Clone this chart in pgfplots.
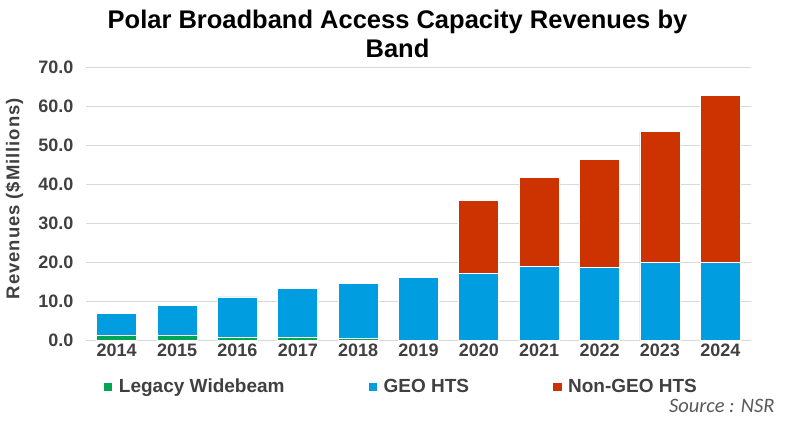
\documentclass[border=0pt]{standalone}
\usepackage{fontspec}
\setmainfont{Liberation Sans}
\newfontfamily\srcfont{Carlito}
\newfontfamily\ylabfont[LetterSpace=5]{Liberation Sans}
\usepackage{pgfplots}
\pgfplotsset{compat=1.18}
\definecolor{legacy}{RGB}{0,166,81}
\definecolor{geo}{RGB}{0,158,224}
\definecolor{ngeo}{RGB}{204,51,0}
\definecolor{gridc}{RGB}{217,217,217}
\definecolor{tickc}{RGB}{64,64,64}
\begin{document}
\begin{tikzpicture}
\path[use as bounding box] (-86.5pt,-82.3pt) rectangle (700.5pt,340.7pt);
\begin{axis}[
  at={(0pt,0pt)}, anchor=south west,
  scale only axis,
  width=664pt, height=273.4pt,
  ybar stacked,
  bar width=40pt,
  xmin=-0.5, xmax=10.5,
  ymin=0, ymax=70,
  xtick={0,...,10},
  xticklabels={2014,2015,2016,2017,2018,2019,2020,2021,2022,2023,2024},
  ytick={0,10,...,70},
  /pgf/number format/assume math mode=true,
  /pgf/number format/fixed,
  /pgf/number format/fixed zerofill,
  /pgf/number format/precision=1,
  yticklabel style={xshift=-9.5pt},
  ticklabel style={font=\fontsize{18}{20}\selectfont\bfseries, text=tickc},
  major tick length=0pt,
  axis line style={draw=none},
  ymajorgrids,
  grid style={draw=gridc, line width=1pt},
  legend columns=3,
  legend style={at={(rel axis cs:0.026,-0.168)}, anchor=west, draw=none, fill=none,
    font=\fontsize{19}{22}\selectfont\bfseries, text=tickc, inner sep=0pt,
    /tikz/every even column/.append style={column sep=82pt}},
  legend image code/.code={\fill[#1, draw=none] (0pt,-4pt) rectangle (8.5pt,4pt); \path[draw=none, fill=none] (13pt,0pt);},
]
\addplot[fill=legacy, draw=white, line width=0.8pt] coordinates {
(0,1.25) (1,1.25) (2,0.95) (3,0.95) (4,0.65) (5,0) (6,0) (7,0) (8,0) (9,0) (10,0)};
\addplot[fill=geo, draw=white, line width=0.8pt] coordinates {
(0,5.65) (1,7.75) (2,10.25) (3,12.35) (4,13.95) (5,16.2) (6,17.2) (7,19.0) (8,18.7) (9,20.0) (10,20.0)};
\addplot[fill=ngeo, draw=white, line width=0.8pt] coordinates {
(0,0) (1,0) (2,0) (3,0) (4,0) (5,0) (6,18.6) (7,22.7) (8,27.6) (9,33.5) (10,42.9)};
\legend{Legacy Widebeam, GEO HTS, Non-GEO HTS}
\end{axis}
\node[font=\fontsize{25.5}{29}\selectfont\bfseries, anchor=base] at (311pt,312pt) {Polar Broadband Access Capacity Revenues by};
\node[font=\fontsize{25.5}{29}\selectfont\bfseries, anchor=base] at (311pt,283pt) {Band};
\node[font=\ylabfont\fontsize{18.5}{20}\selectfont\bfseries, text=tickc, rotate=90] at (-72pt,142pt) {Revenues (\$Millions)};
\node[font=\srcfont\fontsize{20.5}{22}\selectfont\itshape, text=black!65, anchor=base east] at (691.5pt,-71.5pt) {Source : NSR};
\end{tikzpicture}
\end{document}
